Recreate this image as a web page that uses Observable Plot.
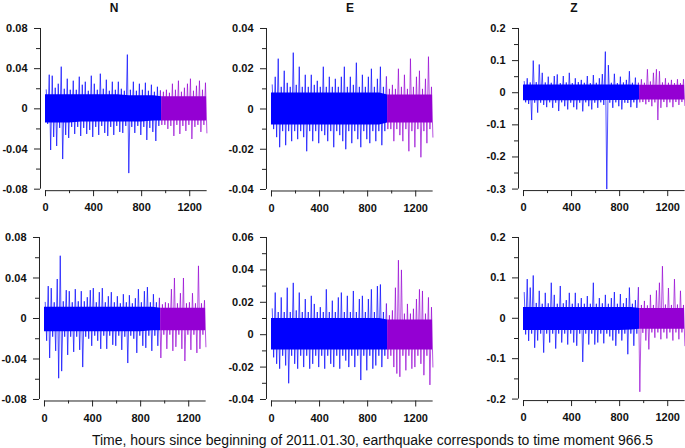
<!DOCTYPE html>
<html>
<head>
<meta charset="utf-8">
<script src="https://cdn.jsdelivr.net/npm/d3@7"></script>
<script src="https://cdn.jsdelivr.net/npm/@observablehq/plot@0.6"></script>
<style>
  body { margin: 0; background: #fff; }
  #wrap { position: relative; width: 685px; height: 448px; overflow: hidden; font-family: "Liberation Sans", Arial, sans-serif; color: #111; }
  .ttl { position: absolute; top: 0; width: 40px; margin-left: -20px; text-align: center; font-size: 12px; font-weight: bold; line-height: 16px; }
  #caption { position: absolute; left: 0; top: 432px; width: 745px; text-align: center; font-size: 14px; line-height: 16px; }
</style>
</head>
<body>
<div id="wrap"></div>
<script>
// ---------- data ----------
const quakeHour = 966.5;
const binStart = d3.range(0, 1350, 25);           // 25-hour bins, 0 .. 1325
const coreTimes = [0, 100, 200, 300, 400, 500, 600, 700, 800, 900, 966.5, 1000, 1100, 1200, 1300, 1340];

const titles = ["N", "E", "Z", "", "", ""];
const xMajor = [0, 400, 800, 1200];
const xMinor = [200, 600, 1000];

// bin extremes (upper / lower)
const N1hi = [.019,.034,.033,.021,.025,.042,.020,.030,.019,.028,.019,.032,.024,.027,.018,.033,.025,.019,.035,.020,.029,.018,.027,.019,.027,.020,.018,.054,.019,.027,.018,.025,.019,.026,.018,.024,.017,.022,.018,.017,.019,.016,.025,.019,.028,.017,.021,.025,.030,.018,.023,.028,.019,.026];
const N1lo = [-.015,-.041,-.028,-.037,-.019,-.050,-.026,-.029,-.018,-.025,-.018,-.027,-.019,-.025,-.021,-.028,-.018,-.026,-.017,-.024,-.027,-.018,-.026,-.017,-.023,-.024,-.017,-.064,-.018,-.024,-.017,-.026,-.018,-.031,-.019,-.023,-.032,-.017,-.016,-.016,-.020,-.017,-.027,-.016,-.025,-.017,-.022,-.016,-.030,-.018,-.016,-.023,-.016,-.024];
const E1hi = [.012,.016,.025,.011,.019,.013,.011,.028,.012,.021,.011,.017,.011,.017,.012,.014,.011,.021,.011,.016,.011,.015,.011,.016,.021,.011,.016,.012,.023,.011,.017,.011,.016,.020,.011,.015,.021,.011,.016,.010,.012,.010,.020,.011,.017,.010,.025,.011,.016,.019,.010,.015,.026,.011];
const E1lo = [-.010,-.014,-.019,-.011,-.018,-.011,-.016,-.011,-.015,-.011,-.014,-.021,-.011,-.016,-.011,-.017,-.011,-.013,-.016,-.011,-.019,-.011,-.013,-.016,-.020,-.011,-.017,-.011,-.015,-.019,-.011,-.015,-.017,-.011,-.016,-.011,-.018,-.011,-.010,-.010,-.016,-.010,-.013,-.016,-.010,-.021,-.011,-.019,-.010,-.024,-.011,-.017,-.010,-.014];
const Z1hi = [.035,.045,.032,.100,.033,.088,.062,.032,.050,.031,.052,.057,.030,.052,.032,.062,.030,.045,.033,.040,.031,.052,.030,.055,.031,.045,.058,.128,.086,.031,.059,.030,.050,.032,.040,.067,.031,.047,.030,.042,.031,.073,.035,.062,.073,.067,.032,.045,.031,.040,.030,.042,.030,.042];
const Z1lo = [-.030,-.035,-.085,-.031,-.062,-.031,-.038,-.045,-.030,-.047,-.031,-.057,-.030,-.042,-.052,-.031,-.045,-.052,-.031,-.058,-.030,-.042,-.052,-.031,-.047,-.030,-.038,-.300,-.031,-.047,-.030,-.042,-.052,-.031,-.032,-.045,-.030,-.047,-.030,-.029,-.036,-.029,-.042,-.030,-.085,-.047,-.029,-.045,-.030,-.045,-.029,-.038,-.029,-.040];
const N2hi = [.016,.032,.030,.016,.039,.062,.017,.028,.027,.016,.029,.017,.027,.017,.021,.028,.030,.016,.026,.030,.016,.022,.026,.016,.022,.015,.024,.016,.023,.015,.020,.029,.016,.027,.031,.016,.024,.016,.020,.014,.016,.015,.029,.040,.015,.025,.040,.015,.016,.025,.015,.052,.015,.018];
const N2lo = [-.022,-.039,-.018,-.032,-.059,-.052,-.018,-.036,-.018,-.033,-.018,-.031,-.048,-.018,-.020,-.027,-.017,-.022,-.030,-.017,-.030,-.017,-.026,-.027,-.017,-.031,-.018,-.044,-.017,-.020,-.034,-.017,-.027,-.029,-.017,-.032,-.017,-.027,-.039,-.016,-.030,-.016,-.032,-.028,-.016,-.030,-.042,-.016,-.031,-.016,-.034,-.030,-.016,-.028];
const E2hi = [.016,.026,.014,.023,.014,.029,.014,.032,.015,.026,.014,.022,.014,.024,.019,.014,.017,.014,.028,.014,.021,.014,.023,.026,.014,.024,.014,.027,.014,.022,.024,.014,.022,.028,.014,.030,.031,.014,.019,.012,.015,.029,.046,.040,.013,.019,.013,.016,.022,.028,.027,.013,.023,.017];
const E2lo = [-.014,-.018,-.021,-.013,-.019,-.030,-.013,-.018,-.021,-.013,-.020,-.013,-.021,-.018,-.013,-.020,-.013,-.021,-.013,-.018,-.020,-.013,-.021,-.013,-.016,-.020,-.013,-.020,-.013,-.028,-.013,-.022,-.013,-.021,-.019,-.013,-.020,-.013,-.015,-.013,-.020,-.024,-.026,-.013,-.022,-.013,-.021,-.020,-.013,-.018,-.025,-.013,-.031,-.020];
const Z2hi = [.064,.097,.076,.106,.038,.068,.036,.063,.037,.088,.058,.036,.080,.037,.045,.063,.036,.063,.037,.050,.036,.055,.036,.088,.036,.050,.037,.058,.036,.050,.065,.036,.060,.037,.050,.076,.036,.045,.076,.033,.043,.032,.058,.033,.069,.088,.129,.034,.075,.033,.097,.034,.068,.033];
const Z2lo = [-.040,-.056,-.038,-.073,-.055,-.038,-.085,-.038,-.060,-.038,-.075,-.038,-.060,-.038,-.065,-.038,-.060,-.068,-.038,-.108,-.038,-.065,-.038,-.065,-.060,-.038,-.062,-.038,-.045,-.055,-.068,-.038,-.055,-.038,-.089,-.038,-.068,-.038,-.182,-.036,-.055,-.077,-.035,-.048,-.035,-.052,-.035,-.050,-.035,-.055,-.035,-.052,-.035,-.068];

// extent of the solid core of the trace, at coreTimes
const N1coreHi = [.014,.014,.014,.014,.014,.014,.014,.013,.013,.013,.012,.012,.012,.012,.012,.012];
const N1coreLo = [-.014,-.014,-.014,-.013,-.013,-.013,-.013,-.013,-.013,-.012,-.012,-.012,-.012,-.012,-.012,-.012];
const E1coreHi = [.008,.008,.008,.008,.008,.008,.008,.008,.008,.008,.007,.007,.007,.007,.007,.007];
const E1coreLo = [-.008,-.008,-.008,-.008,-.008,-.008,-.008,-.008,-.008,-.008,-.007,-.007,-.007,-.007,-.007,-.007];
const Z1coreHi = [.024,.024,.024,.024,.024,.024,.024,.024,.024,.024,.023,.023,.023,.023,.023,.023];
const Z1coreLo = [-.025,-.025,-.025,-.025,-.025,-.025,-.025,-.024,-.024,-.024,-.023,-.023,-.023,-.023,-.023,-.023];
const N2coreHi = [.011,.011,.011,.011,.011,.011,.011,.011,.011,.011,.010,.010,.010,.010,.010,.010];
const N2coreLo = [-.013,-.013,-.013,-.013,-.013,-.013,-.013,-.013,-.013,-.012,-.012,-.012,-.012,-.012,-.012,-.012];
const E2coreHi = [.010,.010,.010,.010,.010,.010,.010,.010,.010,.010,.009,.009,.009,.009,.009,.009];
const E2coreLo = [-.0095,-.0095,-.0095,-.0095,-.0095,-.0095,-.0095,-.0095,-.0095,-.0095,-.0095,-.0095,-.0095,-.0095,-.0095,-.0095];
const Z2coreHi = [.027,.027,.027,.027,.027,.027,.027,.027,.027,.027,.024,.024,.024,.024,.024,.024];
const Z2coreLo = [-.030,-.030,-.030,-.030,-.030,-.030,-.030,-.030,-.030,-.029,-.027,-.027,-.027,-.027,-.027,-.027];

const yDomains = [[-0.08, 0.08], [-0.04, 0.04], [-0.3, 0.2], [-0.08, 0.08], [-0.04, 0.06], [-0.2, 0.2]];
const yMajor = [[-0.08, -0.04, 0, 0.04, 0.08], [-0.04, -0.02, 0, 0.02, 0.04], [-0.3, -0.2, -0.1, 0, 0.1, 0.2],
                [-0.08, -0.04, 0, 0.04, 0.08], [-0.04, -0.02, 0, 0.02, 0.04, 0.06], [-0.2, -0.1, 0, 0.1, 0.2]];
const yMinor = [[-0.06, -0.02, 0.02, 0.06], [-0.03, -0.01, 0.01, 0.03], [-0.25, -0.15, -0.05, 0.05, 0.15],
                [-0.06, -0.02, 0.02, 0.06], [-0.03, -0.01, 0.01, 0.03, 0.05], [-0.15, -0.05, 0.05, 0.15]];

const his = [N1hi, E1hi, Z1hi, N2hi, E2hi, Z2hi];
const los = [N1lo, E1lo, Z1lo, N2lo, E2lo, Z2lo];
const coreHis = [N1coreHi, E1coreHi, Z1coreHi, N2coreHi, E2coreHi, Z2coreHi];
const coreLos = [N1coreLo, E1coreLo, Z1coreLo, N2coreLo, E2coreLo, Z2coreLo];

// ---------- layout (page pixels) ----------
const layout = [
  {x0: 44.5,  yTop: 28,    yBot: 188.7, titleX: 114},
  {x0: 271.3, yTop: 28,    yBot: 189,   titleX: 350},
  {x0: 522.7, yTop: 27.7,  yBot: 188.3, titleX: 574},
  {x0: 44.3,  yTop: 236.7, yBot: 398.7},
  {x0: 271.3, yTop: 236.7, yBot: 398.7},
  {x0: 522.7, yTop: 236.7, yBot: 398.3}
];
const blue = "#0000ff", purple = "#9400d3", axisColor = "#222";
const pxPerHour = 0.1202, xMax = 1345;

const wrap = document.getElementById("wrap");

for (let i = 0; i < 6; i++) {
  const L = layout[i];
  const mL = 45, mR = 15, mT = 28, mB = 32;
  const innerW = xMax * pxPerHour, innerH = L.yBot - L.yTop;
  const W = mL + innerW + mR, H = mT + innerH + mB;
  const [ymin, ymax] = yDomains[i];

  // the trace: alternating upper / lower extremes of each bin
  const trace = [];
  binStart.forEach((s, k) => {
    trace.push({t: s + 6, v: his[i][k]});
    trace.push({t: s + 18, v: los[i][k]});
  });
  const before = trace.filter(d => d.t < quakeHour);
  const after = trace.filter(d => d.t >= quakeHour);
  after.unshift(before[before.length - 1]);

  const core = coreTimes.map((t, k) => ({t, hi: coreHis[i][k], lo: coreLos[i][k]}));
  const coreBefore = core.filter(d => d.t <= quakeHour);
  const coreAfter = core.filter(d => d.t >= quakeHour);

  const svg = Plot.plot({
    width: W, height: H,
    marginLeft: mL, marginRight: mR, marginTop: mT, marginBottom: mB,
    x: {domain: [0, xMax]},
    y: {domain: [ymin, ymax]},
    style: {fontFamily: "'Liberation Sans', Arial, sans-serif", fontSize: "11px", fontWeight: "bold", color: "#111", background: "transparent", overflow: "visible"},
    marks: [
      Plot.lineY(before, {x: "t", y: "v", stroke: blue, strokeOpacity: 0.85, strokeWidth: 0.8}),
      Plot.lineY(after,  {x: "t", y: "v", stroke: purple, strokeOpacity: 0.85, strokeWidth: 0.8}),
      Plot.areaY(coreBefore, {x: "t", y1: "lo", y2: "hi", fill: blue}),
      Plot.areaY(coreAfter,  {x: "t", y1: "lo", y2: "hi", fill: purple}),
      Plot.ruleX([0], {y1: ymin, y2: ymax, dx: -5, stroke: axisColor}),
      Plot.ruleY([ymin], {x1: 0, x2: xMax, dy: 1.5, stroke: axisColor}),
      Plot.axisY(yMajor[i], {tickSize: 6, tickPadding: 7, dx: -5, tickFormat: d => String(d), label: null, stroke: axisColor}),
      Plot.axisY(yMinor[i], {tickSize: 4, dx: -5, tickFormat: () => "", label: null, stroke: axisColor}),
      Plot.axisX(xMajor, {tickSize: 6, tickPadding: 7, dy: 1.5, tickFormat: d => String(d), label: null, stroke: axisColor}),
      Plot.axisX(xMinor, {tickSize: 3, dy: 1.5, tickFormat: () => "", label: null, stroke: axisColor})
    ]
  });
  svg.style.position = "absolute";
  svg.style.left = (L.x0 - mL) + "px";
  svg.style.top = (L.yTop - mT) + "px";
  wrap.appendChild(svg);

  if (titles[i]) {
    const t = document.createElement("div");
    t.className = "ttl";
    t.style.left = L.titleX + "px";
    t.textContent = titles[i];
    wrap.appendChild(t);
  }
}

const cap = document.createElement("div");
cap.id = "caption";
cap.textContent = "Time, hours since beginning of 2011.01.30, earthquake corresponds to time moment 966.5";
wrap.appendChild(cap);
</script>
</body>
</html>
